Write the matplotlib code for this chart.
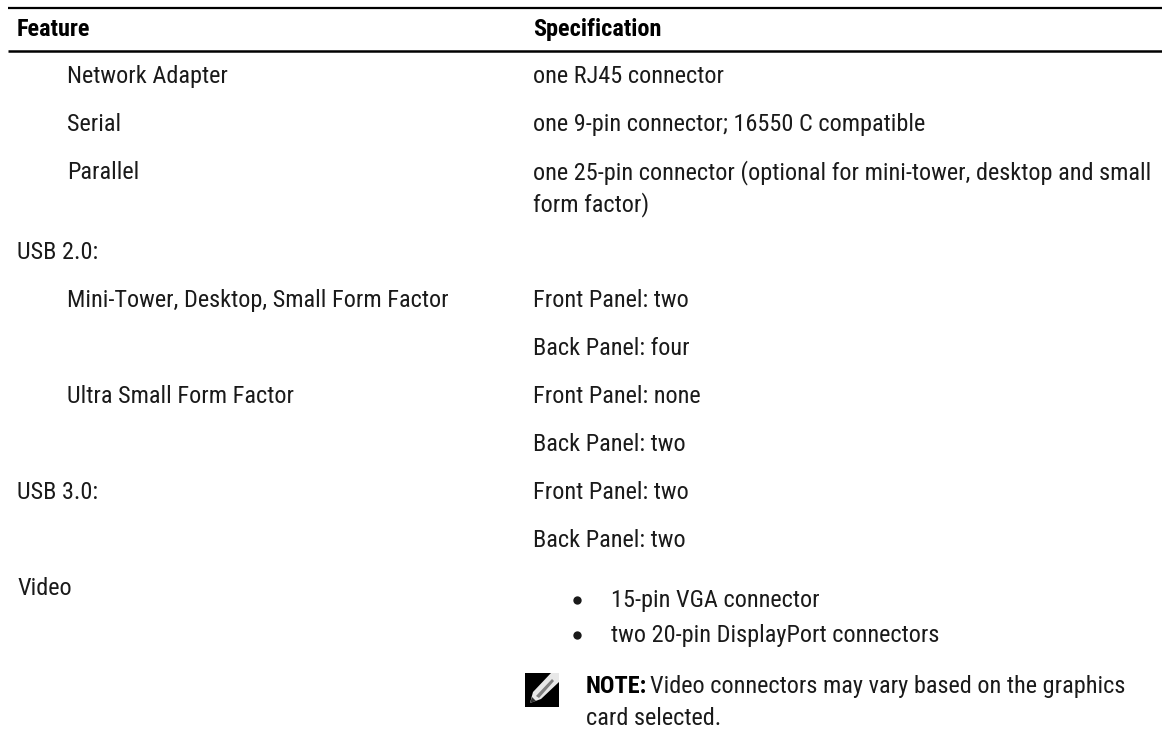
import matplotlib
matplotlib.use("Agg")
import matplotlib.pyplot as plt
from matplotlib.patches import Rectangle, Polygon

W, H = 1162, 729

headers = ["Feature", "Specification"]

# label, indented?, baseline row
left_rows = [("Network Adapter", 1, 83), ("Serial", 1, 131), ("Parallel", 1, 179),
             ("USB 2.0:", 0, 259), ("Mini-Tower, Desktop, Small Form Factor", 1, 307),
             ("Ultra Small Form Factor", 1, 403), ("USB 3.0:", 0, 499), ("Video", 0, 595)]

right_rows = [("one RJ45 connector", 83), ("one 9-pin connector; 16550 C compatible", 131),
              ("one 25-pin connector (optional for mini-tower, desktop and small", 179),
              ("form factor)", 211), ("Front Panel: two", 307), ("Back Panel: four", 355),
              ("Front Panel: none", 403), ("Back Panel: two", 451), ("Front Panel: two", 499),
              ("Back Panel: two", 547)]

bullets = [("15-pin VGA connector", 607), ("two 20-pin DisplayPort connectors", 642)]

plt.rcParams['font.family'] = ['Roboto Condensed', 'Roboto', 'DejaVu Sans']
fig = plt.figure(figsize=(W / 100, H / 100), dpi=100)
ax = fig.add_axes([0, 0, 1, 1])
ax.set_xlim(0, W)
ax.set_ylim(H, 0)
ax.axis("off")

FS = 17.5
C = "#1a1a1a"

ax.plot([8, W], [8, 8], color="black", lw=1.6, solid_capstyle="butt")
ax.plot([8, W], [50.5, 50.5], color="black", lw=1.8, solid_capstyle="butt")
ax.text(17, 36, headers[0], fontsize=FS, fontweight="bold", color="black")
ax.text(533, 36, headers[1], fontsize=FS, fontweight="bold", color="black")

for label, indent, y in left_rows:
    ax.text(67 if indent else 17, y, label, fontsize=FS, color=C)
for label, y in right_rows:
    ax.text(533, y, label, fontsize=FS, color=C)
for label, y in bullets:
    ax.plot([577], [y - 7], "o", ms=6, color=C, mew=0)
    ax.text(611, y, label, fontsize=FS, color=C)

# note icon
ax.add_patch(Rectangle((525, 673), 34, 34, color="black", lw=0))
ax.add_patch(Polygon([[530, 703], [533, 692], [551, 673], [559, 673], [559, 682], [541, 699]],
                     color="#e8e8e8", lw=0))
ax.add_patch(Polygon([[536, 696], [552, 679], [554, 681], [539, 698]], color="#808080", lw=0))
ax.add_patch(Polygon([[530, 703], [532, 697], [536, 701]], color="#303030", lw=0))

ax.text(586, 693, "NOTE:", fontsize=FS, fontweight="bold", color="black")
ax.text(650, 693, "Video connectors may vary based on the graphics", fontsize=FS, color=C)
ax.text(586, 725, "card selected.", fontsize=FS, color=C)

fig.savefig("out.png", dpi=100)
